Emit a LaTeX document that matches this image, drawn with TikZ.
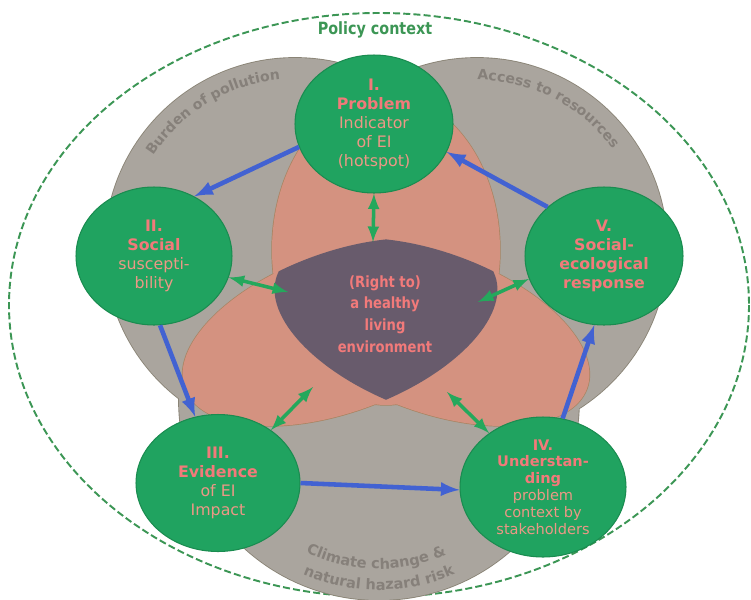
\documentclass[tikz,border=0pt]{standalone}
\usepackage{fontspec}
\setmainfont{DejaVu Sans}
\newfontfamily\narrowfont{DejaVu Sans}[FakeStretch=0.85]
\usetikzlibrary{shapes,arrows,decorations.text}

\definecolor{grayzone}{RGB}{170,165,158}
\definecolor{grayline}{RGB}{138,132,118}
\definecolor{graytext}{RGB}{134,128,122}
\definecolor{salmon}{RGB}{212,146,128}
\definecolor{salmonline}{RGB}{168,132,98}
\definecolor{core}{RGB}{104,91,108}
\definecolor{stagegreen}{RGB}{32,163,96}
\definecolor{stageline}{RGB}{26,140,80}
\definecolor{pinkhead}{RGB}{242,122,122}
\definecolor{pinktext}{RGB}{236,152,134}
\definecolor{flowblue}{RGB}{66,98,210}
\definecolor{linkgreen}{RGB}{36,168,92}
\definecolor{policygreen}{RGB}{60,150,85}

\newcommand{\hd}[1]{{\bfseries\color{pinkhead}#1}}
\newcommand{\arcfont}{\bfseries\fontsize{8pt}{10pt}\selectfont}
\newcommand{\lowarcfont}{\bfseries\fontsize{8.3pt}{10pt}\selectfont}

\begin{document}
\begin{tikzpicture}[
	x=0.02cm, y=-0.02cm,
	stage/.style={ellipse,draw=stageline,line width=0.6pt,fill=stagegreen,inner sep=0pt,minimum width=3.16cm,minimum height=2.76cm,align=center,text=pinktext,font=\fontsize{9pt}{10.8pt}\selectfont},
	flow/.style={-latex,flowblue,line width=2.6pt},
	link/.style={latex-latex,linkgreen,line width=2pt},
	arctext/.style 2 args={decorate,decoration={text along path,text align=center,text color=graytext,text={|#1|#2}}}
	]
	\useasboundingbox (0,0) rectangle (751,599);
	\draw[policygreen, dash pattern=on 4pt off 1.8pt, line width=1.1pt] (379,305) ellipse [x radius=370, y radius=292];
	\node[policygreen, font=\narrowfont\bfseries\fontsize{9.6pt}{11pt}\selectfont] (policy) at (375,30) {Policy context};

	\coordinate (burden) at (295,248);
	\coordinate (access) at (477,248);
	\coordinate (climate) at (379,400);
	\draw[grayline, line width=1pt] (burden) circle [radius=190] (access) circle [radius=190] (climate) circle [radius=200];
	\fill[grayzone] (burden) circle [radius=190] (access) circle [radius=190] (climate) circle [radius=200];

	\draw[salmonline, line width=0.8pt] (386,250) ellipse [x radius=114, y radius=155];
	\draw[salmonline, line width=0.8pt, rotate around={20:(340,332)}] (340,332) ellipse [x radius=165, y radius=80];
	\draw[salmonline, line width=0.8pt, rotate around={-20:(432,332)}] (432,332) ellipse [x radius=165, y radius=80];
	\fill[salmon] (386,250) ellipse [x radius=114, y radius=155];
	\fill[salmon, rotate around={20:(340,332)}] (340,332) ellipse [x radius=165, y radius=80];
	\fill[salmon, rotate around={-20:(432,332)}] (432,332) ellipse [x radius=165, y radius=80];
	\begin{scope}
		\clip[rotate around={20:(340,332)}] (340,332) ellipse [x radius=165, y radius=80];
		\fill[core, rotate around={-20:(432,332)}] (432,332) ellipse [x radius=165, y radius=80];
	\end{scope}

	\path[arctext={\arcfont}{Burden of pollution}] ([shift={(204:169)}]burden) arc [start angle=204, end angle=274, radius=169];
	\path[arctext={\arcfont}{Access to resources}] ([shift={(262:168)}]access) arc [start angle=262, end angle=332, radius=168];
	\path[arctext={\lowarcfont}{Climate change {\&}}] ([shift={(126:169)}]climate) arc [start angle=126, end angle=56, radius=169];
	\path[arctext={\lowarcfont}{natural hazard risk}] ([shift={(125:190)}]climate) arc [start angle=125, end angle=55, radius=190];

	\node[stage] (I) at (374,124) {\hd{I.}\\\hd{Problem}\\Indicator\\of EI\\(hotspot)};
	\node[stage, minimum width=3.12cm] (II) at (154,256) {\hd{II.}\\\hd{Social}\\suscepti-\\bility};
	\node[stage] (V) at (604,256) {\hd{V.}\\\hd{Social-}\\\hd{ecological}\\\hd{response}};
	\node[stage, minimum width=3.28cm, minimum height=2.74cm] (III) at (218,483) {\hd{III.}\\\hd{Evidence}\\of EI\\Impact};
	\node[stage, minimum width=3.32cm, minimum height=2.8cm, font=\fontsize{8.3pt}{9.6pt}\selectfont] (IV) at (543,487) {\hd{IV.}\\\hd{Understan-}\\\hd{ding}\\problem\\context by\\stakeholders};
	\node[pinkhead, font=\narrowfont\bfseries\fontsize{8.8pt}{12.3pt}\selectfont, align=center] (env) at (385,314) {(Right to)\\a healthy\\living\\environment};

	\coordinate (envtop) at (373,242);
	\coordinate (envleft) at (288,292);
	\coordinate (envright) at (478,302);
	\coordinate (envlowleft) at (313,387);
	\coordinate (envlowright) at (447,392);
	\path[link]
	(I.south) edge (envtop)
	(II.-16) edge (envleft)
	(V.197) edge (envright)
	(III.45) edge (envlowleft)
	(IV.135) edge (envlowright);
	\path[flow]
	(I.197) edge (II.56)
	(II.275) edge (III.109)
	(III.0) edge (IV.182)
	(IV.74) edge (V.262)
	(V.139) edge (I.-21);
\end{tikzpicture}
\end{document}
